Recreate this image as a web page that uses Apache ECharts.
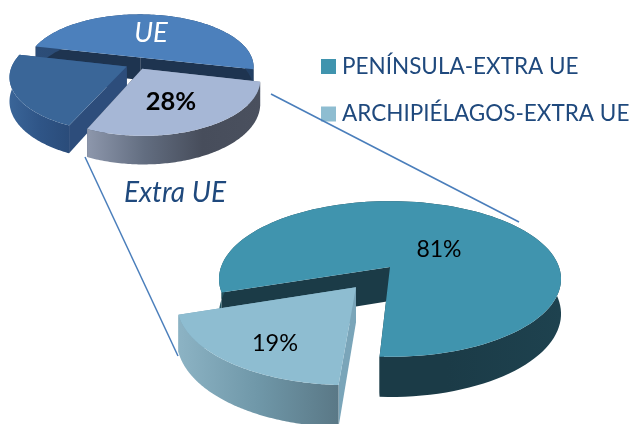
<!DOCTYPE html>
<html><head><meta charset="utf-8">
<style>html,body{margin:0;padding:0;background:#fff}#c{width:633px;height:424px}</style>
<script src="https://cdn.jsdelivr.net/npm/echarts@6/dist/echarts.min.js"></script>
</head><body><div id="c"></div>
<script>
// Data
const topCategories = ['Extra UE', 'UE (parte)', 'UE'];
const topValues = [28, 22, 50];
const bottomCategories = ['ARCHIPIÉLAGOS-EXTRA UE', 'PENÍNSULA-EXTRA UE'];
const bottomValues = [19, 81];
const legendNames = ['PENÍNSULA-EXTRA UE', 'ARCHIPIÉLAGOS-EXTRA UE'];

const FONT = 'Lato, Carlito, sans-serif';
const NAVY = '#1f497d';

const grad = (...c) => ({type:'linear',x:0,y:0,x2:1,y2:0,colorStops:c.map((col,i)=>({offset:c.length>1?i/(c.length-1):0,color:col}))});

// Projection of each disc: centre, radius, tilt, perspective, thickness, explosion
const topPie = {cx:137,cy:64,R:114,s:53,k:0.18,D:23,start:13};
const bottomPie = {cx:390,cy:267,R:169,s:76,k:0.154,D:34,start:93};

const topStyles = [
  {d:0.10,top:'#a6b7d6',side:grad('#8d97ac','#626d80','#474d5b','#4a505e'),f1:'#39404e',f2:'#7f8aa0'},
  {d:0.10,top:'#3a6698',side:grad('#3a6598','#2f5587','#2a4c7a'),f1:'#2d4d7b',f2:'#2d4d7b'},
  {d:0.13,top:'#4c80bc',side:grad('#2c4d78','#223f63'),f1:'#1e3450',f2:'#1e3450'}
];
const bottomStyles = [
  {d:0.32,top:'#8ebdd1',side:grad('#8cb3c4','#6f97a8','#5a7886'),f1:'#7aa5b9',f2:'#7aa5b9'},
  {d:0,top:'#4094ae',side:grad('#255764','#1b3b47','#1b3b47','#1e424f'),f1:'#1b3b47',f2:'#1b3b47'}
];

function sliceRender(pie, values, styles, idx){
  return function(params, api){
    const value = api.value(0);
    const total = values.reduce((a,b)=>a+b,0);
    const before = values.slice(0,idx).reduce((a,b)=>a+b,0);
    const a0 = pie.start + before/total*360;
    const a1 = a0 + value/total*360;
    const mid = (a0+a1)/2*Math.PI/180;
    const st = styles[idx];
    const ox = st.d*Math.cos(mid), oy = st.d*Math.sin(mid);
    const proj = (X,Y,h)=>{
      const den = 1-pie.k*Y;
      return [pie.cx+pie.R*X/den, pie.cy+(pie.s*Y+pie.D*h)/den];
    };
    const rim = (deg,h)=>{
      const r = deg*Math.PI/180;
      return proj(ox+Math.cos(r),oy+Math.sin(r),h);
    };
    const arcTop=[], arcBot=[];
    for(let i=0;i<=120;i++){
      const t=a0+(a1-a0)*i/120;
      arcTop.push(rim(t,0));
      arcBot.push(rim(t,1));
    }
    const apexT=proj(ox,oy,0), apexB=proj(ox,oy,1);
    const poly=(points,fill)=>({type:'polygon',shape:{points},style:{fill}});
    return {type:'group',children:[
      poly([apexT,rim(a1,0),rim(a1,1),apexB],st.f1),
      poly([apexT,rim(a0,0),rim(a0,1),apexB],st.f2),
      poly(arcTop.concat(arcBot.slice().reverse()),st.side),
      poly([apexT].concat(arcTop),st.top)
    ]};
  };
}

const series=[];
function addPie(pie,cats,vals,styles,order,base){
  order.forEach((i,n)=>{
    const top = styles[i].top;
    series.push({
      type:'custom',name:cats[i],coordinateSystem:'none',z:base+n,
      silent:true,
      itemStyle:{color:top},
      data:[[vals[i]]],
      renderItem:sliceRender(pie,vals,styles,i)
    });
  });
}
addPie(topPie,topCategories,topValues,topStyles,[2,1,0],2);
addPie(bottomPie,bottomCategories,bottomValues,bottomStyles,[1,0],6);

const lab=(text,x,y,size,fill,extra)=>({type:'text',x,y,z:100,style:Object.assign({text,fill,font:size+'px '+FONT,align:'center',verticalAlign:'middle'},extra||{})});
const conn=(x1,y1,x2,y2)=>({type:'line',z:90,shape:{x1,y1,x2,y2},style:{stroke:'#4a7ebb',lineWidth:1.5}});

const chart=echarts.init(document.getElementById('c'),null,{renderer:'canvas'});
chart.setOption({
  animation:false,
  backgroundColor:'#fff',
  legend:{
    orient:'vertical',left:316,top:50,itemWidth:15,itemHeight:15,itemGap:24.5,icon:'rect',
    data:legendNames,selectedMode:false,
    textStyle:{color:NAVY,fontFamily:FONT,fontSize:22.5,padding:[0,0,0,1]}
  },
  series,
  graphic:[
    conn(271,94,519,222),
    conn(85,157,178,356),
    lab('UE',151,33,27,'#fff',{font:'italic 27.5px '+FONT}),
    lab(topValues[0]+'%',171,102,25,'#000',{font:'bold 25.5px '+FONT}),
    lab('Extra UE',175,193,28,NAVY,{font:'italic 28px '+FONT}),
    lab(bottomValues[1]+'%',439,250,23,'#000'),
    lab(bottomValues[0]+'%',275,343,23.5,'#000')
  ]
});
</script></body></html>
